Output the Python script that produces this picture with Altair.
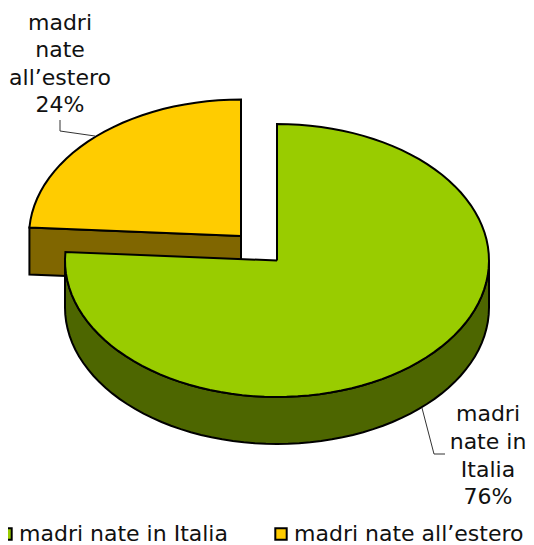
import math
import altair as alt
import pandas as pd

# Data
categories = ["madri nate in Italia", "madri nate all’estero"]
shares = [76, 24]
top_colors = ["#99cc00", "#ffcc00"]
side_colors = ["#4d6600", "#806600"]

label_lines = ["madri", "nate", "all’estero", "24%", "madri", "nate in", "Italia", "76%"]
label_x = [60, 60, 60, 60, 488, 488, 488, 488]
label_y = [23, 50, 78, 105, 414, 442, 470, 497]

# Projection of the exploded 3D pie
RX, RY, DEPTH = 212, 136.5, 47
GREEN_C = (277, 260.5)
ORANGE_C = (241, 236)
end_deg = 360 * shares[0] / sum(shares)


def pt(c, deg, drop=0):
    a = math.radians(deg)
    return (c[0] + RX * math.sin(a), c[1] - RY * math.cos(a) + drop)


def arc(c, a0, a1, drop=0, step=3):
    n = max(2, int(abs(a1 - a0) / step))
    return [pt(c, a0 + (a1 - a0) * i / n, drop) for i in range(n + 1)]


def frame(name, pts, cat=None):
    pts = list(pts) + [pts[0]]
    return pd.DataFrame(
        {"part": name, "x": [p[0] for p in pts], "y": [p[1] for p in pts],
         "i": range(len(pts)), "categoria": cat}
    )


green_top = frame("green_top", [GREEN_C] + arc(GREEN_C, 0, end_deg), categories[0])
orange_top = frame("orange_top", [ORANGE_C] + arc(ORANGE_C, end_deg, 360), categories[1])
green_side = frame("green_side", arc(GREEN_C, 90, 270) + arc(GREEN_C, 270, 90, DEPTH))
e = pt(ORANGE_C, end_deg)
orange_side = frame("orange_side", [ORANGE_C, e, (e[0], e[1] + DEPTH),
                                    (ORANGE_C[0], ORANGE_C[1] + DEPTH)])

X = alt.X("x:Q", scale=alt.Scale(domain=[8, 526], nice=False, zero=False), axis=None)
Y = alt.Y("y:Q", scale=alt.Scale(domain=[545, 8], nice=False, zero=False), axis=None)
ORD = alt.Order("i:Q")


def side(df, color):
    return alt.Chart(df).mark_line(fill=color, stroke="#000000", strokeWidth=2).encode(x=X, y=Y, order=ORD)


legend = alt.Legend(
    title=None, orient="none", legendX=-13, legendY=515, direction="horizontal",
    symbolType="square", symbolSize=130, symbolStrokeColor="#000000", symbolStrokeWidth=2,
    labelFont="DejaVu Sans", labelFontSize=22, labelColor="#111111", labelOffset=2,
    labelLimit=400, columnPadding=42, symbolOpacity=1, columns=2,
)
fill = alt.Fill(
    "categoria:N",
    scale=alt.Scale(domain=categories, range=top_colors),
    legend=legend,
)


def top(df):
    return alt.Chart(df).mark_line(stroke="#000000", strokeWidth=2).encode(x=X, y=Y, order=ORD, fill=fill)


leader_a = pd.DataFrame({"x": [60, 60, 95], "y": [120, 131, 136], "i": [0, 1, 2]})
leader_b = pd.DataFrame({"x": [422, 434, 445], "y": [408, 454, 454], "i": [0, 1, 2]})


def leader(df):
    return alt.Chart(df).mark_line(stroke="#333333", strokeWidth=1).encode(x=X, y=Y, order=ORD)


labels = pd.DataFrame({"x": label_x, "y": label_y, "t": label_lines})
text = alt.Chart(labels).mark_text(
    font="DejaVu Sans", fontSize=22, color="#111111", align="center", baseline="middle"
).encode(x=X, y=Y, text="t:N")

chart = alt.layer(
    side(orange_side, side_colors[1]),
    top(orange_top),
    side(green_side, side_colors[0]),
    top(green_top),
    leader(leader_a),
    leader(leader_b),
    text,
).properties(width=518, height=537, padding=0, autosize=alt.AutoSizeParams(type="none")).configure_view(stroke=None)

chart.save("out.html", embed_options={"renderer": "svg", "actions": False})
